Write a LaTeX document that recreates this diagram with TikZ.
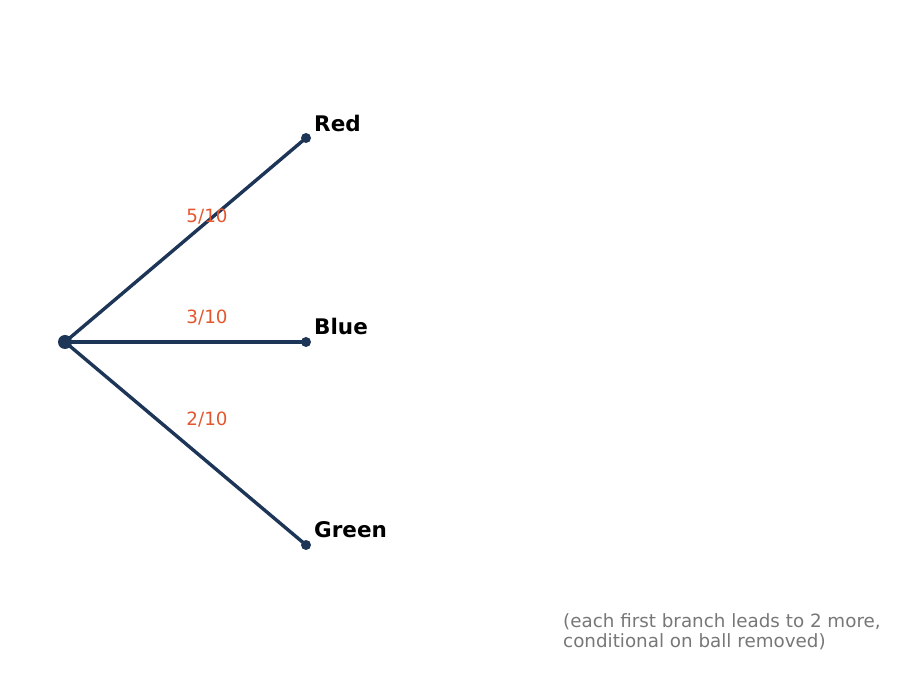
\documentclass[tikz,border=0pt]{standalone}
\usepackage{fontspec}
\setmainfont{DejaVu Sans}
\definecolor{navy}{HTML}{1D3557}
\definecolor{prob}{HTML}{E4572E}
\definecolor{note}{HTML}{777777}
\begin{document}
\begin{tikzpicture}[x=1pt,y=-1pt,
  branch/.style={draw=navy,line width=3.4pt},
  leaf/.style={circle,fill=navy,inner sep=0pt,minimum size=10pt},
  rootdot/.style={circle,fill=navy,inner sep=0pt,minimum size=14pt},
  outcome/.style={font=\fontsize{21.5}{25}\selectfont\bfseries,anchor=base west,inner sep=0pt,text=black},
  problabel/.style={font=\fontsize{18.3}{22}\selectfont,anchor=base,inner sep=0pt,text=prob},
  notetext/.style={font=\fontsize{18.3}{21}\selectfont,text=note,align=left,anchor=base west,inner sep=0pt}]
\useasboundingbox (0,0) rectangle (906,684);
\node[rootdot] (root) at (65,342) {};
\node[leaf] (red) at (306,138) {};
\node[leaf] (blue) at (306,342) {};
\node[leaf] (green) at (306,545) {};
\draw[branch] (root.center) -- (red.center);
\draw[branch] (root.center) -- (blue.center);
\draw[branch] (root.center) -- (green.center);
\node[outcome] (lr) at (314,132) {Red};
\node[outcome] (lb) at (314,335) {Blue};
\node[outcome] (lg) at (314,538) {Green};
\node[problabel] (p1) at (207,223) {5/10};
\node[problabel] (p2) at (207,324) {3/10};
\node[problabel] (p3) at (207,426) {2/10};
\node[notetext] (n1) at (563,627) {(each first branch leads to 2 more,};
\node[notetext] (n2) at (563,648) {conditional on ball removed)};
\end{tikzpicture}
\end{document}
